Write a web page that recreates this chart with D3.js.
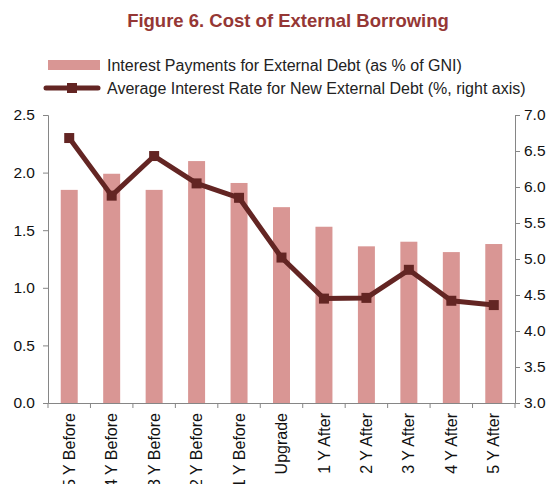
<!DOCTYPE html>
<html>
<head>
<meta charset="utf-8">
<script src="https://cdn.jsdelivr.net/npm/d3@7"></script>
<style>
  body { margin: 0; background: #fff; }
  svg { display: block; font-family: Arial, "Liberation Sans", sans-serif; }
</style>
</head>
<body>
<svg id="chart" width="554" height="484"></svg>
<script>
// Event-window categories around a rating upgrade
const categories = ["5 Y Before", "4 Y Before", "3 Y Before", "2 Y Before", "1 Y Before",
  "Upgrade", "1 Y After", "2 Y After", "3 Y After", "4 Y After", "5 Y After"];
// Interest payments for external debt, % of GNI (left axis)
const interestPayments = [1.85, 1.99, 1.85, 2.10, 1.91, 1.70, 1.53, 1.36, 1.40, 1.31, 1.38];
// Average interest rate for new external debt, % (right axis)
const avgRate = [6.68, 5.88, 6.43, 6.05, 5.85, 5.02, 4.45, 4.46, 4.85, 4.42, 4.36];
const leftTicks = [0, 0.5, 1.0, 1.5, 2.0, 2.5];
const rightTicks = [3.0, 3.5, 4.0, 4.5, 5.0, 5.5, 6.0, 6.5, 7.0];

const barColor = "#D99694";
const lineColor = "#632523";
const axisColor = "#868686";
const fontFamily = "Arial, 'Liberation Sans', sans-serif";

const svg = d3.select("#chart");
const m = { left: 48, right: 515, top: 115, bottom: 403 };

const x = d3.scaleBand().domain(categories).range([m.left, m.right]).paddingInner(0.6).paddingOuter(0.3);
const xTick = d3.scaleBand().domain(categories).range([m.left, m.right]);
const yL = d3.scaleLinear().domain([0, 2.5]).range([m.bottom, m.top]);
const yR = d3.scaleLinear().domain([3, 7]).range([m.bottom, m.top]);

// Title
svg.append("text").attr("x", 288).attr("y", 27).attr("text-anchor", "middle")
  .attr("font-size", 18.5).attr("font-weight", "bold").attr("fill", "#953735")
  .text("Figure 6. Cost of External Borrowing");

// Legend
const lg = svg.append("g");
lg.append("rect").attr("x", 48).attr("y", 60).attr("width", 52).attr("height", 10).attr("fill", barColor);
lg.append("text").attr("x", 107).attr("y", 71).attr("font-size", 16).attr("fill", "#222")
  .text("Interest Payments for External Debt (as % of GNI)");
lg.append("line").attr("x1", 46).attr("x2", 98).attr("y1", 88).attr("y2", 88)
  .attr("stroke", lineColor).attr("stroke-width", 5).attr("stroke-linecap", "round");
lg.append("rect").attr("x", 67).attr("y", 83).attr("width", 10).attr("height", 10).attr("fill", lineColor);
lg.append("text").attr("x", 107).attr("y", 94).attr("font-size", 16).attr("fill", "#222")
  .text("Average Interest Rate for New External Debt (%, right axis)");

// Bars
svg.append("g").selectAll("rect").data(interestPayments).join("rect")
  .attr("x", (d, i) => x(categories[i]))
  .attr("width", x.bandwidth())
  .attr("y", d => yL(d))
  .attr("height", d => yL(0) - yL(d))
  .attr("fill", barColor);

// Axes
const fmt = d3.format(".1f");
const leftAxis = svg.append("g").attr("transform", `translate(${m.left},0)`)
  .call(d3.axisLeft(yL).tickValues(leftTicks).tickFormat(fmt).tickSizeOuter(0).tickSize(5).tickPadding(8));
const rightAxis = svg.append("g").attr("transform", `translate(${m.right},0)`)
  .call(d3.axisRight(yR).tickValues(rightTicks).tickFormat(fmt).tickSizeOuter(0).tickSize(5).tickPadding(4));
const bottomAxis = svg.append("g").attr("transform", `translate(0,${m.bottom})`)
  .call(d3.axisBottom(xTick).tickSize(0).tickSizeOuter(0).tickPadding(0));

// Category separators on the x axis
svg.append("g").selectAll("line").data(d3.range(categories.length + 1)).join("line")
  .attr("x1", i => m.left + i * xTick.step()).attr("x2", i => m.left + i * xTick.step())
  .attr("y1", m.bottom).attr("y2", m.bottom + 5)
  .attr("stroke", axisColor);

bottomAxis.selectAll("text")
  .attr("transform", "rotate(-90)")
  .attr("text-anchor", "end")
  .attr("x", -10).attr("y", 0).attr("dy", "0.35em");

[leftAxis, rightAxis].forEach(a => {
  a.selectAll("text").attr("font-size", 15.5);
});
bottomAxis.selectAll("text").attr("font-size", 16);
[leftAxis, rightAxis, bottomAxis].forEach(a => {
  a.selectAll(".domain, .tick line").attr("stroke", axisColor);
  a.selectAll("text").attr("fill", "#111").attr("font-family", fontFamily);
});

// Line series with square markers
const line = d3.line().x((d, i) => xTick(categories[i]) + xTick.bandwidth() / 2).y(d => yR(d));
svg.append("path").datum(avgRate).attr("d", line)
  .attr("fill", "none").attr("stroke", lineColor).attr("stroke-width", 5).attr("stroke-linejoin", "round");
svg.append("g").selectAll("rect").data(avgRate).join("rect")
  .attr("x", (d, i) => xTick(categories[i]) + xTick.bandwidth() / 2 - 5)
  .attr("y", d => yR(d) - 5)
  .attr("width", 10).attr("height", 10).attr("fill", lineColor);
</script>
</body>
</html>
